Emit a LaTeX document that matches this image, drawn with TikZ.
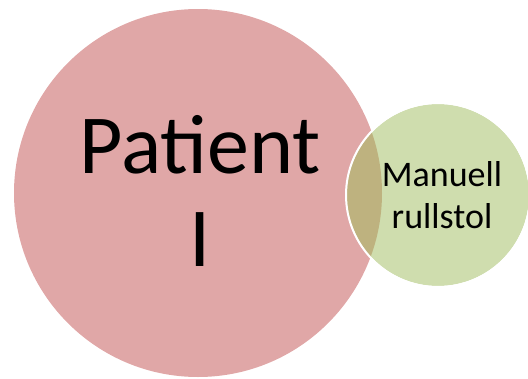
\documentclass[tikz,border=0pt]{standalone}
\usepackage{fontspec}
\setmainfont{Carlito}
\usetikzlibrary{positioning}
\definecolor{patientpink}{HTML}{E0A7A7}
\definecolor{aidgreen}{HTML}{CFDDAE}
\definecolor{overlapbrown}{HTML}{BEB27F}

\begin{document}
\begin{tikzpicture}[x=1pt,y=-1pt,
  bigtext/.style={align=center,font=\fontsize{84}{93}\selectfont,inner sep=0pt},
  smalltext/.style={align=center,font=\fontsize{36}{42}\selectfont,inner sep=0pt}]
  \useasboundingbox (0,0) rectangle (528,378);
  \fill[patientpink] (198,193) circle (184);
  \fill[aidgreen] (438,195) circle (91);
  % overlap of the two circles
  \begin{scope}
    \clip (198,193) circle (184);
    \fill[overlapbrown] (438,195) circle (91);
  \end{scope}
  \draw[white,line width=2pt] (438,195) circle (92);
  \node[bigtext] (patient) at (200,191) {Patient\\I};
  \node[smalltext] (rullstol) at (442,195) {Manuell\\rullstol};
\end{tikzpicture}
\end{document}
